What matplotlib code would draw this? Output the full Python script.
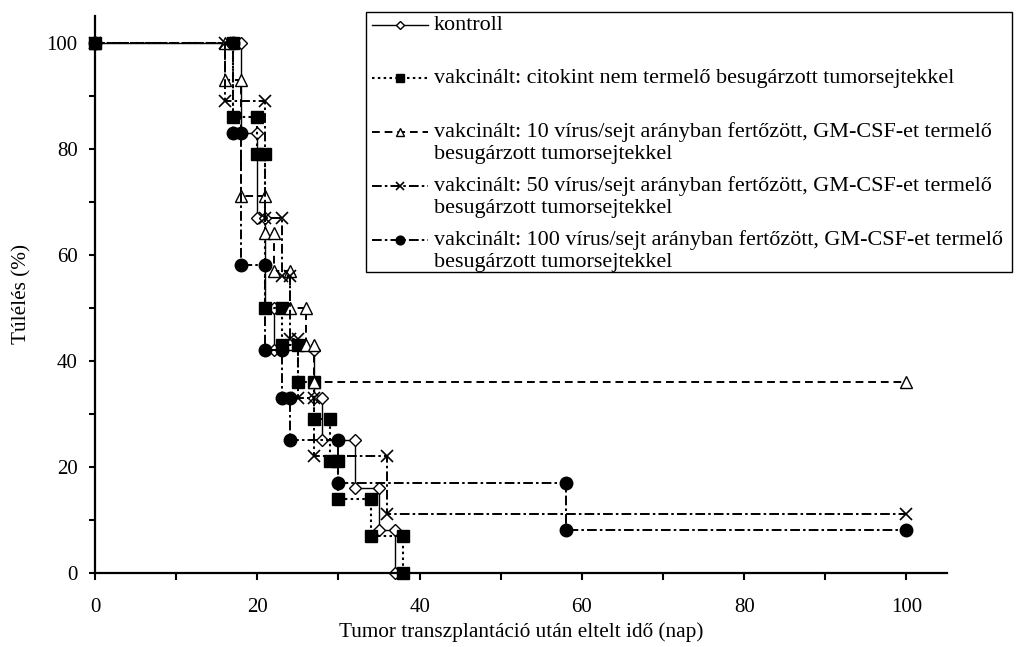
import matplotlib
matplotlib.use('Agg')
import matplotlib.pyplot as plt
from matplotlib.lines import Line2D
from matplotlib.patches import Rectangle

plt.rcParams['font.family'] = ['Liberation Serif', 'DejaVu Serif']

# Kaplan-Meier lépcsők: nap és túlélés (%)
kontroll_nap = [0, 18, 18, 20, 20, 21, 21, 22, 22, 27, 27, 28, 28, 32, 32, 35, 35, 37, 37]
kontroll_tul = [100, 100, 83, 83, 67, 67, 50, 50, 42, 42, 33, 33, 25, 25, 16, 16, 8, 8, 0]

citokin_nap = [0, 17, 17, 20, 20, 21, 21, 23, 23, 25, 25, 27, 27, 29, 29, 30, 30, 34, 34, 38, 38]
citokin_tul = [100, 100, 86, 86, 79, 79, 50, 50, 43, 43, 36, 36, 29, 29, 21, 21, 14, 14, 7, 7, 0]

v10_nap = [0, 16, 16, 18, 18, 21, 21, 22, 22, 24, 24, 26, 26, 27, 27, 100]
v10_tul = [100, 100, 93, 93, 71, 71, 64, 64, 57, 57, 50, 50, 43, 43, 36, 36]

v50_nap = [0, 16, 16, 21, 21, 23, 23, 24, 24, 25, 25, 27, 27, 36, 36, 100]
v50_tul = [100, 100, 89, 89, 67, 67, 56, 56, 44, 44, 33, 33, 22, 22, 11, 11]

v100_nap = [0, 17, 17, 18, 18, 21, 21, 23, 23, 24, 24, 30, 30, 58, 58, 100]
v100_tul = [100, 100, 83, 83, 58, 58, 42, 42, 33, 33, 25, 25, 17, 17, 8, 8]

labels = [
    'kontroll',
    'vakcinált: citokint nem termelő besugárzott tumorsejtekkel',
    'vakcinált: 10 vírus/sejt arányban fertőzött, GM-CSF-et termelő\nbesugárzott tumorsejtekkel',
    'vakcinált: 50 vírus/sejt arányban fertőzött, GM-CSF-et termelő\nbesugárzott tumorsejtekkel',
    'vakcinált: 100 vírus/sejt arányban fertőzött, GM-CSF-et termelő\nbesugárzott tumorsejtekkel',
]

styles = [
    dict(ls='-', lw=1.0, marker='D', ms=6.5, mfc='white', mec='black', mew=1.0),
    dict(ls=(0, (1.2, 1.6)), lw=1.5, marker='s', ms=8, mfc='black', mec='black'),
    dict(ls=(0, (4, 2.5)), lw=1.4, marker='^', ms=8, mfc='white', mec='black', mew=1.0),
    dict(ls=(0, (5, 1.6, 1.3, 1.6)), lw=1.4, marker='x', ms=8, mec='black', mew=1.2),
    dict(ls=(0, (5, 1.6, 1.3, 1.6)), lw=1.4, marker='o', ms=9, mfc='black', mec='black'),
]

series = [(kontroll_nap, kontroll_tul), (citokin_nap, citokin_tul),
          (v10_nap, v10_tul), (v50_nap, v50_tul), (v100_nap, v100_tul)]

fig = plt.figure(figsize=(10.16, 6.47), dpi=100)
ax = fig.add_axes([0.0935, 0.1148, 0.8386, 0.8604])

for (x, y), st in zip(series, styles):
    ax.plot(x, y, color='black', clip_on=False, **st)

ax.set_xlim(0, 105)
ax.set_ylim(0, 105)
ax.set_xticks(range(0, 101, 20))
ax.set_xticks(range(10, 101, 20), minor=True)
ax.set_yticks(range(0, 101, 20))
ax.set_yticks(range(10, 101, 20), minor=True)
ax.tick_params(which='both', direction='out', length=4, width=1.5, labelsize=15)
ax.tick_params(axis='x', which='both', length=5, pad=13)
ax.tick_params(axis='y', which='both', pad=8.5)
for s in ['top', 'right']:
    ax.spines[s].set_visible(False)
for s in ['left', 'bottom']:
    ax.spines[s].set_linewidth(1.6)

ax.set_xlabel('Tumor transzplantáció után eltelt idő (nap)', fontsize=15.3, labelpad=4)
ax.set_ylabel('Túlélés (%)', fontsize=15.3, labelpad=11)

# jelmagyarázat keretben, a bejegyzések az első sorhoz igazítva
W, H = 1016, 647
fig.patches.append(Rectangle((366 / W, 1 - 272 / H), (1012 - 366) / W, (272 - 12) / H,
                             transform=fig.transFigure, fill=False, lw=1.0, ec='black'))
row_y = [25, 78, 132, 186, 240]
for yy, lab, st in zip(row_y, labels, styles):
    sample = dict(st)
    sample['ms'] = st['ms'] * 0.7
    fig.lines.append(Line2D([372 / W, 400 / W, 428 / W], [1 - yy / H] * 3,
                            markevery=[1], color='black',
                            transform=fig.transFigure, **sample))
    lines = lab.split('\n')
    for k, t in enumerate(lines):
        fig.text(434 / W, 1 - (yy + 22 * k) / H, t, fontsize=15.9, va='center', ha='left')

fig.savefig('out.png', dpi=100)
